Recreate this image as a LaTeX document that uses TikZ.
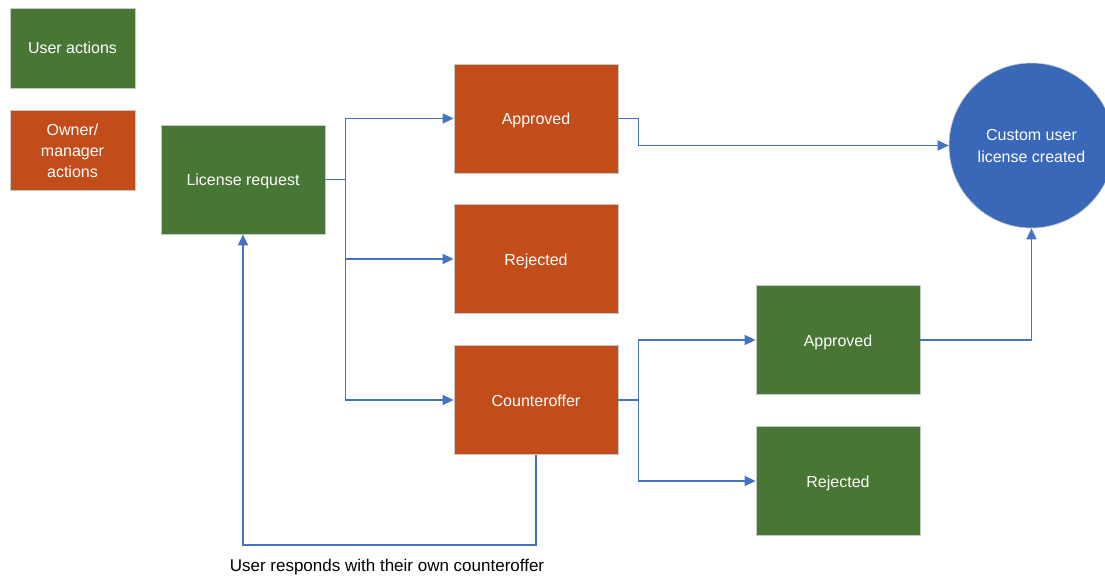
\documentclass[tikz,border=0pt]{standalone}
\usepackage{fontspec}
\setmainfont{Liberation Sans}
\usetikzlibrary{arrows.meta}
\definecolor{ugreen}{RGB}{72,118,52}
\definecolor{oorange}{RGB}{195,77,26}
\definecolor{cblue}{RGB}{58,104,184}
\definecolor{lblue}{RGB}{68,114,196}
\definecolor{bgray}{RGB}{200,200,200}
\begin{document}
\begin{tikzpicture}[x=1pt,y=-1pt,
  box/.style={draw=bgray,line width=0.8pt,text=white,align=center,
    font=\fontsize{16}{21}\selectfont,inner sep=0pt},
  bigbox/.style={box,minimum width=164pt,minimum height=109pt,
    text height=12pt,text depth=0pt},
  legbox/.style={box,minimum width=125pt,minimum height=80pt},
  userbox/.style={fill=ugreen},
  ownerbox/.style={fill=oorange},
  arr/.style={draw=lblue,line width=1.5pt,-{Triangle[length=11pt,width=10pt]}}]
\useasboundingbox (0,0) rectangle (1105,578);
\node[legbox,userbox,text height=12pt,text depth=0pt] (leg1) at (72.5,48) {User actions};
\node[legbox,ownerbox] (leg2) at (72.5,150.5) {Owner/\\manager\\actions};
\node[bigbox,userbox] (lr) at (243,179.5) {License request};
\node[bigbox,ownerbox] (ap1) at (536,118.5) {Approved};
\node[bigbox,ownerbox] (rj1) at (536,259) {Rejected};
\node[bigbox,ownerbox] (co) at (536,400) {Counteroffer};
\node[bigbox,userbox] (ap2) at (838,340) {Approved};
\node[bigbox,userbox] (rj2) at (838,481) {Rejected};
\node[circle,draw=bgray,line width=0.6pt,fill=cblue,text=white,align=center,
  minimum size=165pt,inner sep=0pt,font=\fontsize{16}{22}\selectfont]
  (circ) at (1031.5,145.5) {Custom user\\license created};
\node[font=\fontsize{17}{20}\selectfont,anchor=center] (note) at (387,567)
  {User responds with their own counteroffer};
\draw[arr] (lr.east) -- ++(20,0) coordinate (b1) |- (ap1.west);
\draw[arr] (b1) |- (rj1.west);
\draw[arr] (b1) |- (co.west);
\draw[arr] (ap1.east) -- ++(20,0) |- (circ.west);
\draw[arr] (co.east) -- ++(20,0) coordinate (b2) |- (ap2.west);
\draw[arr] (b2) |- (rj2.west);
\draw[arr] (ap2.east) -| (circ.south);
\draw[arr] (co.south) -- ++(0,90) -| (lr.south);
\end{tikzpicture}
\end{document}
